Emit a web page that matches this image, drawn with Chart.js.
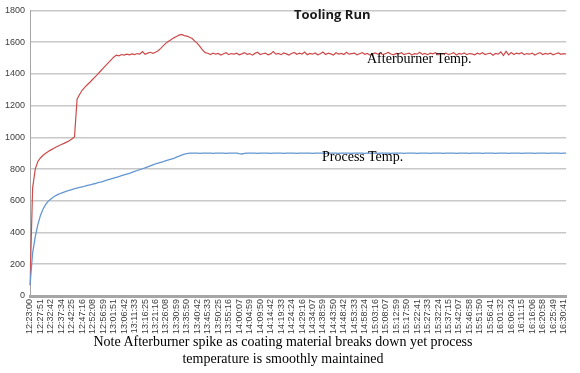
<!DOCTYPE html>
<html>
<head>
<meta charset="utf-8">
<script src="https://cdn.jsdelivr.net/npm/chart.js@4"></script>
<style>
  body { margin: 0; background: #fff; }
  #wrap { position: relative; width: 580px; height: 373px; }
  #chart { position: absolute; left: 0; top: 0; }
  .txt { position: absolute; white-space: nowrap; color: #000; }
  #title { left: 294px; top: 5px; font: bold 13px "Open Sans", sans-serif; color: #1a1a1a; }
  .serif { font-family: "Liberation Serif", "DejaVu Serif", serif; font-size: 14px; }
  #note { left: 60px; top: 333px; width: 446px; text-align: center; line-height: 17px; }
</style>
</head>
<body>
<div id="wrap">
  <canvas id="chart" width="580" height="373"></canvas>
  <div class="txt" id="title">Tooling Run</div>
  <div class="txt serif" style="left:367px; top:51px;">Afterburner Temp.</div>
  <div class="txt serif" style="left:322px; top:149px;">Process Temp.</div>
  <div class="txt serif" id="note">Note Afterburner spike as coating material breaks down yet process<br>temperature is smoothly maintained</div>
</div>
<script>
// --- Data ---
const tickLabels = [
    '12:23:00', '12:27:51', '12:32:42', '12:37:34', '12:42:25', '12:47:16', '12:52:08', '12:56:59',
    '13:01:51', '13:06:42', '13:11:33', '13:16:25', '13:21:16', '13:26:08', '13:30:59', '13:35:50',
    '13:40:42', '13:45:33', '13:50:25', '13:55:16', '14:00:07', '14:04:59', '14:09:50', '14:14:42',
    '14:19:33', '14:24:24', '14:29:16', '14:34:07', '14:38:59', '14:43:50', '14:48:42', '14:53:33',
    '14:58:24', '15:03:16', '15:08:07', '15:12:59', '15:17:50', '15:22:41', '15:27:33', '15:32:24',
    '15:37:15', '15:42:07', '15:46:58', '15:51:50', '15:56:41', '16:01:32', '16:06:24', '16:11:15',
    '16:16:06', '16:20:58', '16:25:49', '16:30:41'
];

const yTicks = [0, 200, 400, 600, 800, 1000, 1200, 1400, 1600, 1800];

const afterburnerTemp = [
    68, 680, 800, 848, 870, 887, 900, 911, 921, 930,
    939, 947, 955, 962, 970, 979, 990, 1002, 1240, 1272,
    1298, 1316, 1333, 1349, 1366, 1383, 1400, 1418, 1436, 1453,
    1471, 1488, 1505, 1518, 1514, 1522, 1518, 1524, 1520, 1526,
    1522, 1528, 1525, 1540, 1524, 1531, 1536, 1530, 1536, 1546,
    1561, 1578, 1594, 1606, 1616, 1627, 1636, 1644, 1649, 1641,
    1638, 1631, 1623, 1606, 1592, 1571, 1550, 1534, 1530,
    1522, 1531, 1524, 1529, 1519, 1527, 1533, 1521, 1528, 1525,
    1530, 1520, 1526, 1534, 1523, 1528, 1518, 1529, 1536, 1522,
    1527, 1531, 1520, 1526, 1540, 1524, 1529, 1521, 1532, 1526,
    1519, 1528, 1535, 1523, 1530, 1525, 1537, 1521, 1529, 1524,
    1532, 1520, 1527, 1538, 1522, 1530, 1526, 1519, 1533, 1525,
    1529, 1522, 1536, 1524, 1528, 1531, 1520, 1527, 1534, 1523,
    1529, 1518, 1526, 1532, 1524, 1530, 1521, 1528, 1535, 1525,
    1520, 1529, 1526, 1533, 1522, 1527, 1531, 1519, 1528, 1524,
    1536, 1523, 1529, 1521, 1530, 1526, 1533, 1520, 1528, 1525,
    1531, 1522, 1527, 1534, 1519, 1529, 1524, 1532, 1521, 1528,
    1526, 1520, 1530, 1525, 1533, 1522, 1527, 1531, 1518, 1529,
    1524, 1538, 1516, 1542, 1520, 1535, 1522, 1530, 1526, 1533,
    1521, 1528, 1524, 1531, 1519, 1527, 1534, 1522, 1529, 1525,
    1530, 1520, 1527, 1532, 1523, 1528, 1525
];

const processTemp = [
    68, 270, 372, 450, 508, 548, 577, 598, 612, 624,
    634, 642, 649, 655, 661, 666, 671, 676, 680, 684,
    688, 692, 697, 701, 705, 709, 714, 718, 723, 728,
    733, 738, 743, 748, 753, 758, 763, 768, 773, 779,
    785, 791, 796, 802, 808, 814, 820, 826, 832, 837,
    842, 847, 853, 858, 863, 868, 875, 881, 888, 894,
    898, 900,
    900, 901, 900, 899, 900, 901, 900, 900, 899, 900, 901, 900,
    900, 899, 900, 901, 900, 900, 897, 895, 899, 900, 901, 900,
    900, 899, 900, 900, 901, 900, 899, 900, 900, 901, 900, 899,
    900, 900, 901, 900, 899, 900, 900, 901, 900, 900, 899, 900,
    901, 900, 900, 899, 900, 901, 900, 900, 899, 900, 901, 900,
    900, 899, 900, 901, 900, 900, 899, 900, 901, 900, 900, 899,
    900, 901, 900, 900, 899, 900, 901, 900, 900, 899, 900, 901,
    900, 900, 899, 900, 901, 900, 900, 899, 900, 901, 900, 900,
    899, 900, 901, 900, 900, 899, 900, 901, 900, 900, 899, 900,
    901, 900, 900, 899, 900, 901, 900, 900, 899, 900, 901, 900,
    900, 899, 900, 901, 900, 900, 899, 900, 901, 900, 900, 899,
    900, 901, 900, 900, 899, 900, 901, 900, 900, 899, 900, 900
];

// 4 samples between each labelled time, one trailing sample after the last label
const categories = [];
tickLabels.forEach((t, i) => {
    categories.push(t);
    if (i < tickLabels.length - 1) categories.push('', '', '');
});
categories.push('');

const ctx = document.getElementById('chart');

new Chart(ctx, {
    type: 'line',
    data: {
        labels: categories,
        datasets: [
            {
                label: 'Process Temp.',
                data: processTemp,
                borderColor: '#6496d2',
                borderWidth: 1.3,
                pointRadius: 0,
                tension: 0
            },
            {
                label: 'Afterburner Temp.',
                data: afterburnerTemp,
                borderColor: '#cd4a4a',
                borderWidth: 1.2,
                pointRadius: 0,
                tension: 0
            }
        ]
    },
    options: {
        responsive: false,
        animation: false,
        layout: { padding: { top: 6, right: 2, left: 0, bottom: 0 } },
        plugins: {
            legend: { display: false },
            tooltip: { enabled: false }
        },
        scales: {
            x: {
                grid: { display: false, drawTicks: false },
                border: { color: '#a6a6a6', width: 3 },
                ticks: {
                    autoSkip: false,
                    maxRotation: 90,
                    minRotation: 90,
                    padding: 3,
                    color: '#3c3c3c',
                    font: { family: 'Liberation Sans', size: 9 },
                    callback: function (val) { return this.getLabelForValue(val); }
                },
                afterFit: (s) => { s.height = 77; }
            },
            y: {
                min: yTicks[0],
                max: yTicks[yTicks.length - 1],
                afterBuildTicks: (s) => { s.ticks = yTicks.map(v => ({ value: v })); },
                grid: { color: '#c8c8c8', lineWidth: 1.6, drawTicks: false },
                border: { color: '#a6a6a6', width: 1 },
                ticks: {
                    padding: 5,
                    color: '#3c3c3c',
                    font: { family: 'Liberation Sans', size: 9 },
                    callback: (v) => String(v)
                },
                afterFit: (s) => { s.width = 30; }
            }
        }
    }
});
</script>
</body>
</html>
